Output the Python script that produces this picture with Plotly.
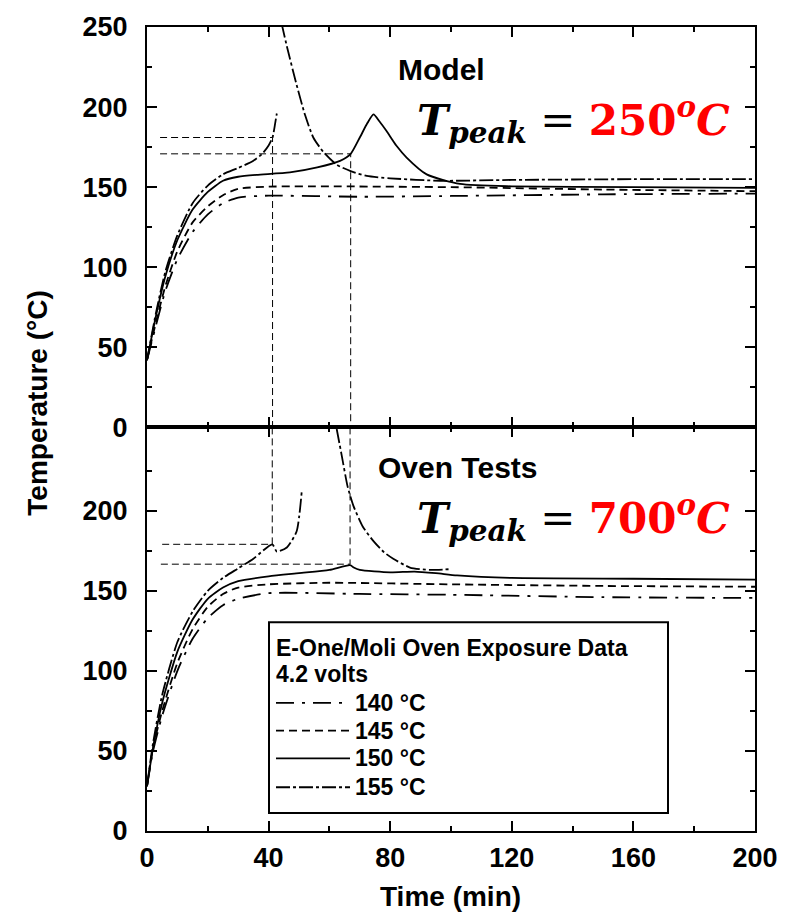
import plotly.graph_objects as go

# ---------------- data ----------------
# Model (top panel)
m140_t = [0, 3, 6, 10, 15, 20, 25, 30, 40, 70, 100, 150, 200]
m140_T = [42, 64, 85, 105, 122, 133, 140, 143.5, 144.7, 144, 144.5, 145.5, 146]
m145_t = [0, 3, 6, 10, 15, 20, 25, 30, 40, 60, 100, 150, 200]
m145_T = [42, 66, 88, 110, 128, 138, 145, 149, 150.3, 150.5, 150, 148.5, 147.5]
m150_t = [0, 3, 6, 10, 15, 20, 25, 30, 36, 47, 56, 63.5, 67, 70, 72.5, 74.5, 76.5, 78.8, 82, 85.4, 92, 103, 120, 160, 200]
m150_T = [42, 70, 94, 117, 136, 147, 154, 156.5, 157.7, 159.2, 162.3, 166.4, 170.8, 181, 190, 195.4, 191, 185, 176, 168.5, 158, 152, 150.5, 150, 149.5]
m155_t = [0, 3, 6, 10, 15, 20, 25, 30, 35, 38, 40, 41.3, 42, 42.7, None,
          44.3, 46, 49.2, 52, 54.7, 58, 62.4, 67, 72.3, 80, 96.4, 120, 160, 200]
m155_T = [42, 72, 97, 120, 140, 151, 158, 162, 166.5, 171, 176, 181, 188, 196, None,
          252, 238, 214, 195, 181, 172, 164, 160, 157, 155.5, 154, 154.5, 155, 155]

# Oven tests (bottom panel)
o140_t = [0, 2, 5, 10, 15, 20, 25, 30, 40, 70, 100, 150, 200]
o140_T = [28, 50, 72, 100, 120, 133, 141, 145, 148.5, 148, 147.5, 146, 145.5]
o145_t = [0, 2, 5, 10, 15, 20, 25, 30, 40, 60, 100, 150, 200]
o145_T = [28, 52, 75, 105, 126, 140, 148, 152, 154, 155, 154, 153, 152.5]
o150_t = [0, 2, 5, 10, 15, 20, 25, 30, 40, 50, 60, 66.8, 68, 70, 80, 88, 95, 102, 120, 160, 200]
o150_T = [28, 52, 80, 112, 132, 145, 152, 156, 159, 161, 163, 166, 164.5, 163, 161.5, 162, 161, 159.6, 158, 157.5, 157]
o155_t = [0, 2, 5, 10, 15, 20, 25, 30, 35, 41.2, 42.7, 46, 49.2, 50.9, None,
          62.4, 64, 66, 67.9, 71, 74.5, 78, 81, 86.5, 93, 100]
o155_T = [28, 55, 85, 118, 137, 150, 158, 164, 170, 179, 174.5, 177, 187, 212, None,
          251, 235, 215, 203, 190, 181, 174, 170, 164.5, 163, 163.5]

# reference (onset) guide lines
m_ref1_t = [4.3, 41.3, 41.3]
m_ref1_T = [181, 181, 0]
m_ref2_t = [4.3, 67, 67]
m_ref2_T = [170.8, 170.8, 0]
o_ref1_t = [41.2, 41.2, 4.3]
o_ref1_T = [252, 179, 179]
o_ref2_t = [66.8, 66.8, 4.3]
o_ref2_T = [252, 166.6, 166.6]

legend_labels = ["140 °C", "145 °C", "150 °C", "155 °C"]
x_ticks = [0, 40, 80, 120, 160, 200]
y_ticks_top = [0, 50, 100, 150, 200, 250]
y_ticks_bot = [0, 50, 100, 150, 200]

# ---------------- styles ----------------
dashes = ["18px,8px,3px,8px", "8px,5px", "solid", "14px,3px,3px,3px"]
LW = 1.8
W, H = 790, 923
L, R, T, B = 147, 755, 22, 831


def px(x):
    return (x - L) / (R - L)


def py(y):
    return (B - y) / (B - T)


fig = go.Figure()

top = [(m140_t, m140_T), (m145_t, m145_T), (m150_t, m150_T), (m155_t, m155_T)]
bot = [(o140_t, o140_T), (o145_t, o145_T), (o150_t, o150_T), (o155_t, o155_T)]
for i, (t, v) in enumerate(top):
    fig.add_trace(go.Scatter(x=t, y=v, mode="lines", xaxis="x2", yaxis="y",
                             line=dict(color="black", width=LW, dash=dashes[i], shape="spline", smoothing=0.6),
                             showlegend=False, connectgaps=False))
for i, (t, v) in enumerate(bot):
    fig.add_trace(go.Scatter(x=t, y=v, mode="lines", xaxis="x", yaxis="y2",
                             line=dict(color="black", width=LW, dash=dashes[i], shape="spline", smoothing=0.6),
                             showlegend=False, connectgaps=False))

for (t, v) in [(m_ref1_t, m_ref1_T), (m_ref2_t, m_ref2_T)]:
    fig.add_trace(go.Scatter(x=t, y=v, mode="lines", xaxis="x2", yaxis="y",
                             line=dict(color="black", width=1, dash="7px,4px"), showlegend=False))
for (t, v) in [(o_ref1_t, o_ref1_T), (o_ref2_t, o_ref2_T)]:
    fig.add_trace(go.Scatter(x=t, y=v, mode="lines", xaxis="x", yaxis="y2",
                             line=dict(color="black", width=1, dash="7px,4px"), showlegend=False))

sans = "Liberation Sans, Arial, sans-serif"
serif = "DejaVu Serif, serif"

axis_common = dict(showline=True, linewidth=2, linecolor="black", mirror="ticks",
                   ticks="inside", ticklen=10, tickwidth=1.5, tickcolor="black",
                   showgrid=False, zeroline=False)
tickfont = dict(family=sans, size=27, color="black", weight="bold")

fig.update_layout(
    width=W, height=H,
    margin=dict(l=L, r=W - R, t=T, b=H - B),
    plot_bgcolor="white", paper_bgcolor="white",
    xaxis=dict(domain=[0, 1], anchor="y2", range=[0, 200], tickvals=x_ticks,
               tickfont=tickfont, ticklabelstandoff=2,
               minor=dict(dtick=20, ticks="inside", ticklen=5, tickcolor="black", tickwidth=1.5),
               **axis_common),
    xaxis2=dict(domain=[0, 1], anchor="y", range=[0, 200], tickvals=x_ticks, matches="x",
                showticklabels=False,
                minor=dict(dtick=20, ticks="inside", ticklen=5, tickcolor="black", tickwidth=1.5),
                **axis_common),
    yaxis=dict(domain=[0.502, 1], anchor="x2", range=[0, 250], tickvals=y_ticks_top,
               tickfont=tickfont, ticklabelstandoff=12,
               minor=dict(dtick=25, ticks="inside", ticklen=5, tickcolor="black", tickwidth=1.5),
               **axis_common),
    yaxis2=dict(domain=[0, 0.502], anchor="x", range=[0, 252], tickvals=y_ticks_bot,
                tickfont=tickfont, ticklabelstandoff=12,
                minor=dict(tickvals=[25, 75, 125, 175, 225], ticks="inside", ticklen=5, tickcolor="black", tickwidth=1.5),
                **axis_common),
)

ann = []


def add_text(text, x, y, font, xanchor="center", yanchor="middle", **kw):
    ann.append(dict(text=text, x=px(x), y=py(y), xref="paper", yref="paper",
                    xanchor=xanchor, yanchor=yanchor, showarrow=False, font=font, **kw))


# axis titles
add_text("Time (min)", 450, 897, dict(family=sans, size=28, color="black", weight="bold"))
add_text("Temperature (°C)", 38, 401, dict(family=sans, size=28, color="black", weight="bold"),
         textangle=-90)
# panel labels
add_text("Model", 441, 65, dict(family=sans, size=30, color="black", weight="bold"))
add_text("Oven Tests", 458, 465, dict(family=sans, size=30, color="black", weight="bold"))


def tpeak(val):
    return ("<b><i>T</i></b><sub><b><i>peak</i></b></sub> = "
            "<span style='color:#ff0000'><b>" + val + "<sup><i>o</i></sup><i>C</i></b></span>")


tfont = dict(family=serif, size=42, color="black")
add_text(tpeak("250"), 573, 115, tfont)
add_text(tpeak("700"), 573, 516, tfont)

# legend box contents
lf = dict(family=sans, size=23, color="black", weight="bold")
add_text("E-One/Moli Oven Exposure Data", 274, 647, lf, xanchor="left")
add_text("4.2 volts", 274, 673, lf, xanchor="left")
leg_y = [702, 730, 758, 787]
shapes = [dict(type="rect", xref="paper", yref="paper", x0=px(269), x1=px(668), y0=py(813), y1=py(621),
               line=dict(color="black", width=2), fillcolor="white", layer="above")]
for i, lab in enumerate(legend_labels):
    add_text(lab, 353, leg_y[i], lf, xanchor="left")
    shapes.append(dict(type="line", xref="paper", yref="paper", x0=px(276), x1=px(350),
                       y0=py(leg_y[i]), y1=py(leg_y[i]),
                       line=dict(color="black", width=LW, dash=dashes[i]), layer="above"))

fig.update_layout(annotations=ann, shapes=shapes)
fig.write_html("out.html")
